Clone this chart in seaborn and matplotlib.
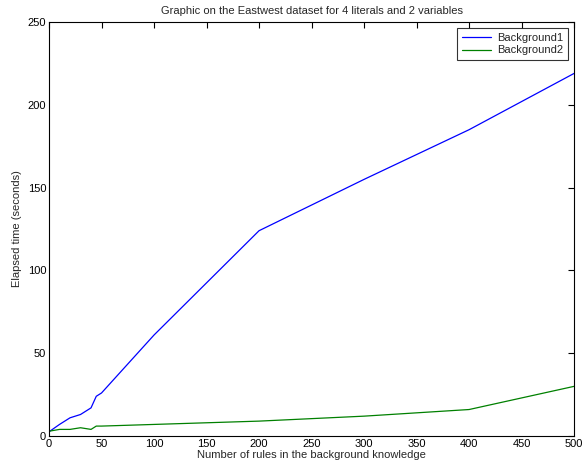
import matplotlib
matplotlib.use("Agg")
import matplotlib.pyplot as plt
import seaborn as sns
import pandas as pd

rules = [1, 10, 20, 30, 40, 45, 50, 100, 200, 300, 400, 500]
background1 = [3, 7, 11, 13, 17, 24, 26, 61, 124, 155, 185, 219]
background2 = [3, 4, 4, 5, 4, 6, 6, 7, 9, 12, 16, 30]
series_names = ["Background1", "Background2"]

df = pd.DataFrame({
    "rules": rules * 2,
    "time": background1 + background2,
    "series": [series_names[0]] * len(rules) + [series_names[1]] * len(rules),
})

sns.set_style("white")
plt.rcParams["font.family"] = ["Liberation Sans", "DejaVu Sans"]
plt.rcParams["font.size"] = 8

fig = plt.figure(figsize=(5.87, 4.70), dpi=100)
ax = fig.add_axes([0.0835, 0.0723, 0.8945, 0.8807])
sns.lineplot(data=df, x="rules", y="time", hue="series",
             palette=["#0000ff", "#008000"], linewidth=0.9, ax=ax)

ax.set_xlim(0, 500)
ax.set_ylim(0, 250)
ax.set_xticks(range(0, 501, 50))
ax.set_yticks(range(0, 251, 50))
ax.tick_params(direction="in", top=True, right=True, length=4, width=0.8,
               labelsize=8, colors="black", pad=2)
for s in ax.spines.values():
    s.set_color("black")
    s.set_linewidth(0.8)
ax.set_xlabel("Number of rules in the background knowledge", fontsize=8, labelpad=1)
ax.set_ylabel("Elapsed time (seconds)", fontsize=8, labelpad=4)
ax.set_title("Graphic on the Eastwest dataset for 4 literals and 2 variables", fontsize=8, pad=6)
leg = ax.legend(loc="upper right", fontsize=8, frameon=True, fancybox=False,
                edgecolor="black", borderpad=0.4, handlelength=2.6, labelspacing=0.25,
                handletextpad=0.6, borderaxespad=0.55)
leg.get_frame().set_linewidth(0.8)
fig.savefig("out.png", dpi=100)
